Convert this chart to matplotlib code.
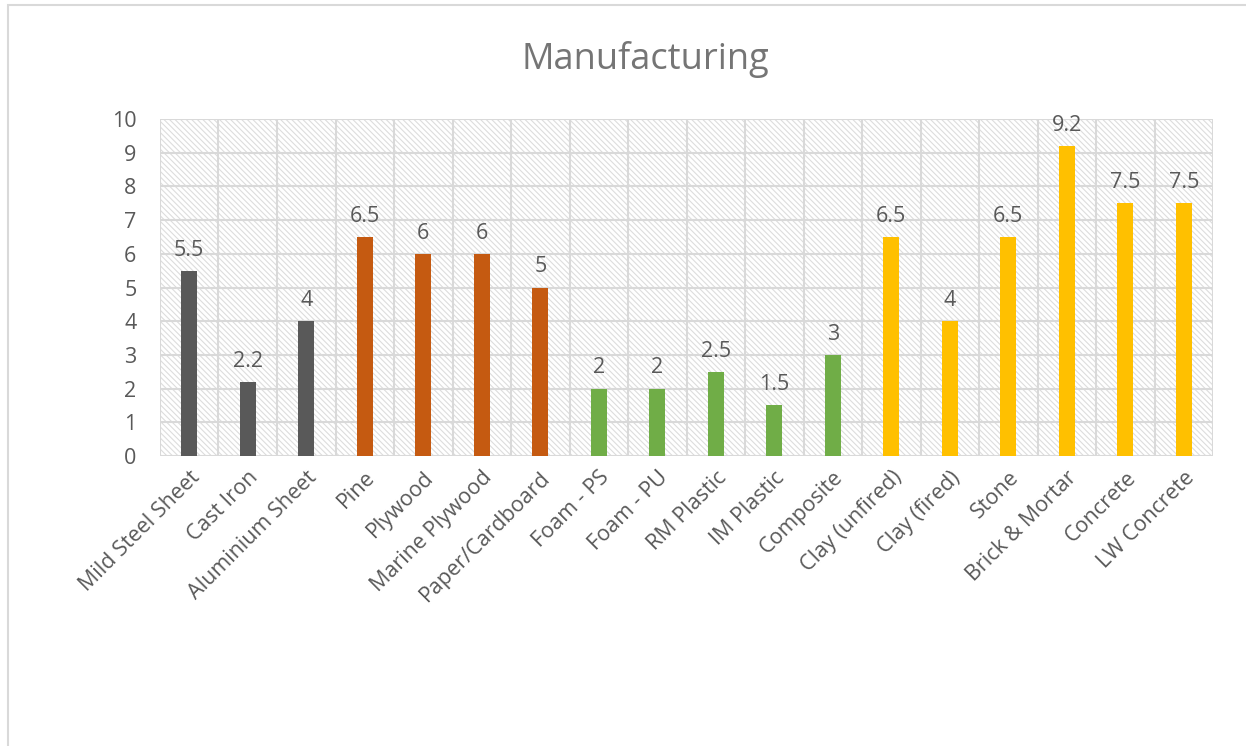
import numpy as np
import matplotlib.pyplot as plt
from matplotlib.patches import Rectangle

plt.rcParams['font.family'] = ['Open Sans', 'DejaVu Sans']
plt.rcParams['hatch.linewidth'] = 0.8
plt.rcParams['hatch.color'] = '#D9D9D9'

materials = ["Mild Steel Sheet", "Cast Iron", "Aluminium Sheet", "Pine", "Plywood",
             "Marine Plywood", "Paper/Cardboard", "Foam - PS", "Foam - PU", "RM Plastic",
             "IM Plastic", "Composite", "Clay (unfired)", "Clay (fired)", "Stone",
             "Brick & Mortar", "Concrete", "LW Concrete"]
values = [5.5, 2.2, 4, 6.5, 6, 6, 5, 2, 2, 2.5, 1.5, 3, 6.5, 4, 6.5, 9.2, 7.5, 7.5]
groups = ["metal"] * 3 + ["wood"] * 4 + ["plastic"] * 5 + ["masonry"] * 6
group_colors = {"metal": "#595959", "wood": "#C55A11", "plastic": "#70AD47", "masonry": "#FFC000"}
labels = ["5.5", "2.2", "4", "6.5", "6", "6", "5", "2", "2", "2.5", "1.5", "3",
          "6.5", "4", "6.5", "9.2", "7.5", "7.5"]

txt = '#595959'
fig = plt.figure(figsize=(12.46, 7.46), dpi=100)
fig.patches.append(Rectangle((8 / 1246, -0.1), 1.2, 1.1 - 5 / 746, transform=fig.transFigure,
                             fill=False, edgecolor='#D9D9D9', linewidth=1.5))
ax = fig.add_axes([160 / 1246, 1 - 456 / 746, (1213 - 160) / 1246, (456 - 119) / 746])

x = np.arange(len(materials))
ax.set_xlim(-0.5, len(materials) - 0.5)
ax.set_ylim(0, 10)

# hatched background
ax.add_patch(Rectangle((0, 0), 1, 1, transform=ax.transAxes, facecolor='white',
                       edgecolor='#DDDDDD', hatch='\\\\\\\\\\\\', linewidth=0, zorder=0))

bars = ax.bar(x, values, width=0.28, color=[group_colors[g] for g in groups], zorder=3)
for xi, v, lab in zip(x, values, labels):
    ax.text(xi, v + 0.3, lab, ha='center', va='bottom', fontsize=15.5, color=txt, zorder=4)

ax.set_yticks(np.arange(0, 11, 1))
ax.set_xticks(x)
ax.set_xticklabels(materials, rotation=45, ha='right', rotation_mode='anchor')
ax.set_xticks(np.arange(-0.5, len(materials), 1), minor=True)
ax.grid(axis='y', which='major', color='#D9D9D9', linewidth=1.5, zorder=1)
ax.grid(axis='x', which='minor', color='#D9D9D9', linewidth=1.5, zorder=1)
ax.grid(axis='x', which='major', visible=False)
ax.tick_params(axis='both', which='both', length=0, labelsize=15.5, labelcolor=txt)
ax.tick_params(axis='y', pad=17)
ax.tick_params(axis='x', pad=8)
for s in ax.spines.values():
    s.set_visible(False)
ax.set_axisbelow(True)

fig.text(645 / 1246, 1 - 60 / 746, "Manufacturing", ha='center', va='center',
         fontsize=26, color='#757575')

plt.savefig("out.png", dpi=100)
